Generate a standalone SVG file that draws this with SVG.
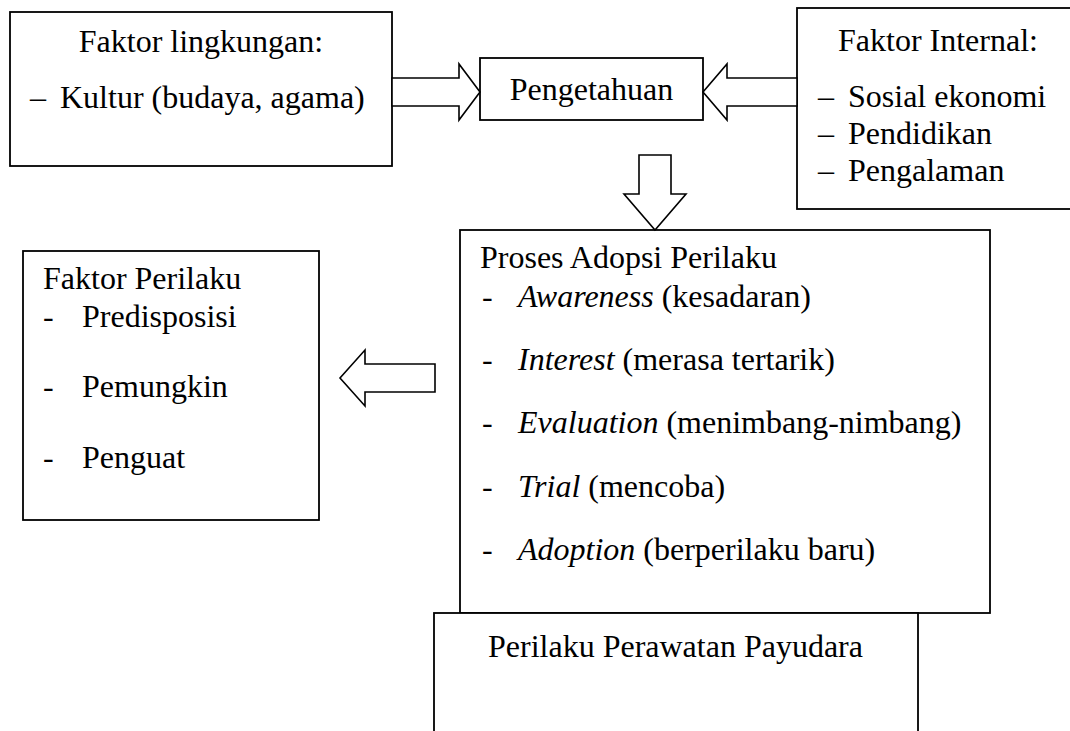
<svg xmlns="http://www.w3.org/2000/svg" width="1070" height="731" viewBox="0 0 1070 731">
  <style>
    .box { fill: #ffffff; stroke: #000000; stroke-width: 1.8; }
    .arr { fill: #ffffff; stroke: #000000; stroke-width: 1.6; stroke-linejoin: miter; }
    text { font-family: "Liberation Serif", "Times New Roman", serif; font-size: 32px; fill: #000000; }
    .it { font-style: italic; }
  </style>
  <rect x="0" y="0" width="1070" height="731" fill="#ffffff"/>

  <g id="faktor-lingkungan">
    <rect class="box" x="10" y="12" width="382" height="154"/>
    <text x="201" y="52" text-anchor="middle">Faktor lingkungan:</text>
    <text x="30" y="108">–</text>
    <text x="60" y="108">Kultur (budaya, agama)</text>
  </g>

  <g id="pengetahuan">
    <rect class="box" x="480" y="58" width="223" height="62"/>
    <text x="591.5" y="100" text-anchor="middle">Pengetahuan</text>
  </g>

  <g id="faktor-internal">
    <rect class="box" x="797" y="8" width="290" height="201"/>
    <text x="838" y="51">Faktor Internal:</text>
    <text x="818" y="107">–</text>
    <text x="848" y="107">Sosial ekonomi</text>
    <text x="818" y="144">–</text>
    <text x="848" y="144">Pendidikan</text>
    <text x="818" y="181">–</text>
    <text x="848" y="181">Pengalaman</text>
  </g>

  <g id="faktor-perilaku">
    <rect class="box" x="23" y="251" width="296" height="269"/>
    <text x="43" y="289">Faktor Perilaku</text>
    <text x="43" y="327">-</text>
    <text x="82" y="327">Predisposisi</text>
    <text x="43" y="397">-</text>
    <text x="82" y="397">Pemungkin</text>
    <text x="43" y="468">-</text>
    <text x="82" y="468">Penguat</text>
  </g>

  <g id="proses-adopsi">
    <rect class="box" x="460" y="230" width="530" height="383"/>
    <text x="480" y="268">Proses Adopsi Perilaku</text>
    <text x="482" y="307">-</text>
    <text x="518" y="307"><tspan class="it">Awareness</tspan> (kesadaran)</text>
    <text x="482" y="370">-</text>
    <text x="518" y="370"><tspan class="it">Interest</tspan> (merasa tertarik)</text>
    <text x="482" y="433">-</text>
    <text x="518" y="433"><tspan class="it">Evaluation</tspan> (menimbang-nimbang)</text>
    <text x="482" y="497">-</text>
    <text x="518" y="497"><tspan class="it">Trial</tspan> (mencoba)</text>
    <text x="482" y="560">-</text>
    <text x="518" y="560"><tspan class="it">Adoption</tspan> (berperilaku baru)</text>
  </g>

  <g id="perilaku-perawatan">
    <rect class="box" x="434" y="613" width="484" height="140"/>
    <text x="488" y="657">Perilaku Perawatan Payudara</text>
  </g>

  <g id="connectors">
    <polygon class="arr" points="392,78 459,78 459,64 480,92 459,120 459,106 392,106"/>
    <polygon class="arr" points="797,78 727,78 727,64 703,92 727,120 727,106 797,106"/>
    <polygon class="arr" points="639,155 671,155 671,194 686,194 655,230 624,194 639,194"/>
    <polygon class="arr" points="435,364 365,364 365,350 340,378 365,406 365,392 435,392"/>
  </g>
</svg>
